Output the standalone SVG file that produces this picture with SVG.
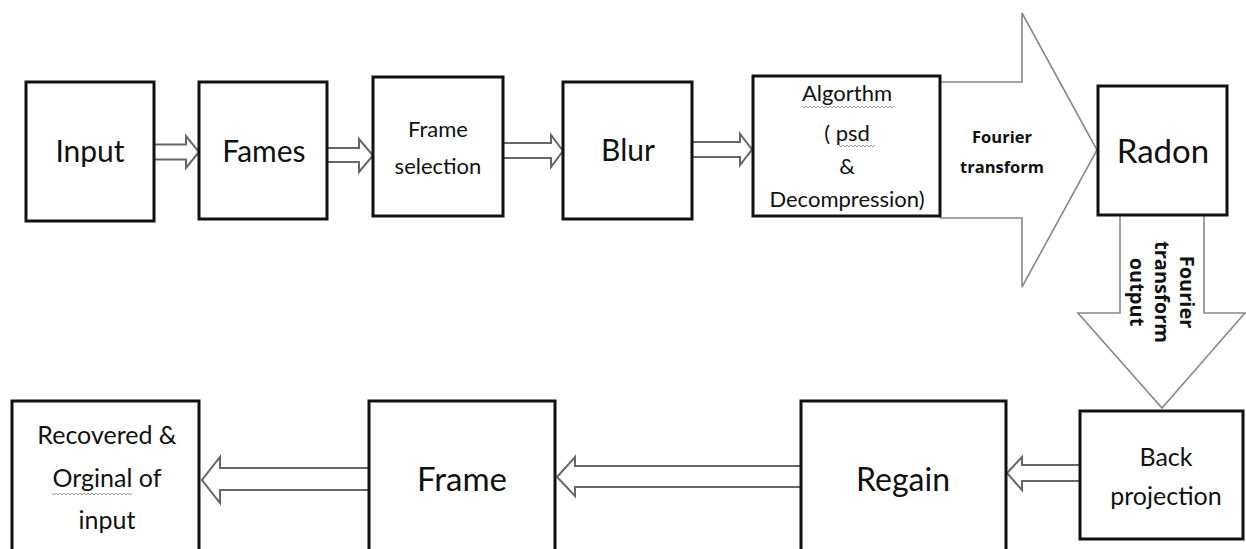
<svg xmlns="http://www.w3.org/2000/svg" width="1246" height="549" viewBox="0 0 1246 549">
<style>
.box{fill:#fff;stroke:#111;stroke-width:3}
.t{font-family:Lato,"Open Sans","Liberation Sans",sans-serif;fill:#111;text-anchor:middle}
.ha{fill:#fff;stroke:#666;stroke-width:2;stroke-linejoin:miter}
.big{fill:#fff;stroke:#888;stroke-width:1.6}
.b{font-family:"Open Sans","Liberation Sans",sans-serif;font-weight:bold;fill:#111;text-anchor:middle}
.sq{fill:none;stroke:#999;stroke-width:1}
</style>
<rect width="1246" height="549" fill="#fff"/>
<g id="connectors">
<path class="big" d="M940,82 L1022,82 L1022,13 L1097,150 L1022,287 L1022,218 L940,218"/>
<path class="big" d="M1120,215 L1120,313 L1078,313 L1162,408 L1245,313 L1204,313 L1204,215"/>
<path class="ha" d="M154,144.5 L186,144.5 L186,136 L199,152 L186,168 L186,159.5 L154,159.5"/>
<path class="ha" d="M327,148 L359,148 L359,139 L373,155.5 L359,172 L359,162 L327,162"/>
<path class="ha" d="M503,143 L551,143 L551,135 L563,151 L551,167 L551,158 L503,158"/>
<path class="ha" d="M692,142 L740,142 L740,134 L752,149.5 L740,165 L740,157 L692,157"/>
<path class="ha" d="M369,468 L220,468 L220,457 L202,480 L220,503 L220,490 L369,490"/>
<path class="ha" d="M800,466 L575,466 L575,457 L557,477 L575,496 L575,487 L800,487"/>
<path class="ha" d="M1080,465 L1022,465 L1022,457 L1007,473 L1022,490 L1022,481 L1080,481"/>
<text class="b" x="1002" y="143" font-size="16.5">Fourier</text>
<text class="b" x="1002" y="173" font-size="16.5">transform</text>
<g transform="translate(1162,292) rotate(90)">
<text class="b" x="0" y="-18" font-size="20">Fourier</text>
<text class="b" x="0" y="7" font-size="20">transform</text>
<text class="b" x="0" y="32" font-size="20">output</text>
</g>
</g>
<g id="n-input"><rect class="box" x="26" y="82" width="128" height="139"/><text class="t" x="90" y="162" font-size="30">Input</text></g>
<g id="n-fames"><rect class="box" x="199" y="82" width="128" height="137"/><text class="t" x="264" y="162" font-size="30">Fames</text></g>
<g id="n-framesel"><rect class="box" x="373" y="77" width="130" height="139"/><text class="t" x="438" y="137" font-size="22">Frame</text><text class="t" x="438" y="174" font-size="22">selection</text></g>
<g id="n-blur"><rect class="box" x="563" y="82" width="129" height="137"/><text class="t" x="628" y="161" font-size="30">Blur</text></g>
<g id="n-algo"><rect class="box" x="753" y="76" width="187" height="140"/>
<text class="t" x="847" y="101" font-size="22">Algorthm</text>
<path class="sq" d="M802,106 l2,2 l2,-2 l2,2 l2,-2 l2,2 l2,-2 l2,2 l2,-2 l2,2 l2,-2 l2,2 l2,-2 l2,2 l2,-2 l2,2 l2,-2 l2,2 l2,-2 l2,2 l2,-2 l2,2 l2,-2 l2,2 l2,-2 l2,2 l2,-2 l2,2 l2,-2 l2,2 l2,-2 l2,2 l2,-2 l2,2 l2,-2 l2,2 l2,-2 l2,2 l2,-2 l2,2 l2,-2 l2,2 l2,-2 l2,2 l2,-2 l2,2 l2,-2"/>
<text class="t" x="847" y="141" font-size="22">( psd</text>
<path class="sq" d="M839,145 l2,2 l2,-2 l2,2 l2,-2 l2,2 l2,-2 l2,2 l2,-2 l2,2 l2,-2 l2,2 l2,-2 l2,2 l2,-2 l2,2 l2,-2 l2,2 l2,-2"/>
<text class="t" x="847" y="174" font-size="22">&amp;</text>
<text class="t" x="847" y="207" font-size="22">Decompression)</text></g>
<g id="n-radon"><rect class="box" x="1098" y="86" width="129" height="129"/><text class="t" x="1163" y="163" font-size="33">Radon</text></g>
<g id="n-back"><rect class="box" x="1080" y="411" width="163" height="128"/><text class="t" x="1166" y="466" font-size="25">Back</text><text class="t" x="1166" y="505" font-size="25">projection</text></g>
<g id="n-regain"><rect class="box" x="801" y="401" width="205" height="160"/><text class="t" x="903" y="491" font-size="32">Regain</text></g>
<g id="n-frame"><rect class="box" x="369" y="401" width="186" height="160"/><text class="t" x="462" y="491" font-size="33">Frame</text></g>
<g id="n-recovered"><rect class="box" x="12" y="401" width="187" height="160"/>
<text class="t" x="107" y="444" font-size="25">Recovered &amp;</text>
<text class="t" x="107" y="487" font-size="25">Orginal of</text>
<path class="sq" d="M52,493 l2,2 l2,-2 l2,2 l2,-2 l2,2 l2,-2 l2,2 l2,-2 l2,2 l2,-2 l2,2 l2,-2 l2,2 l2,-2 l2,2 l2,-2 l2,2 l2,-2 l2,2 l2,-2 l2,2 l2,-2 l2,2 l2,-2 l2,2 l2,-2 l2,2 l2,-2 l2,2 l2,-2 l2,2 l2,-2 l2,2 l2,-2 l2,2 l2,-2 l2,2 l2,-2 l2,2 l2,-2"/>
<text class="t" x="107" y="529" font-size="25">input</text></g>
</svg>
